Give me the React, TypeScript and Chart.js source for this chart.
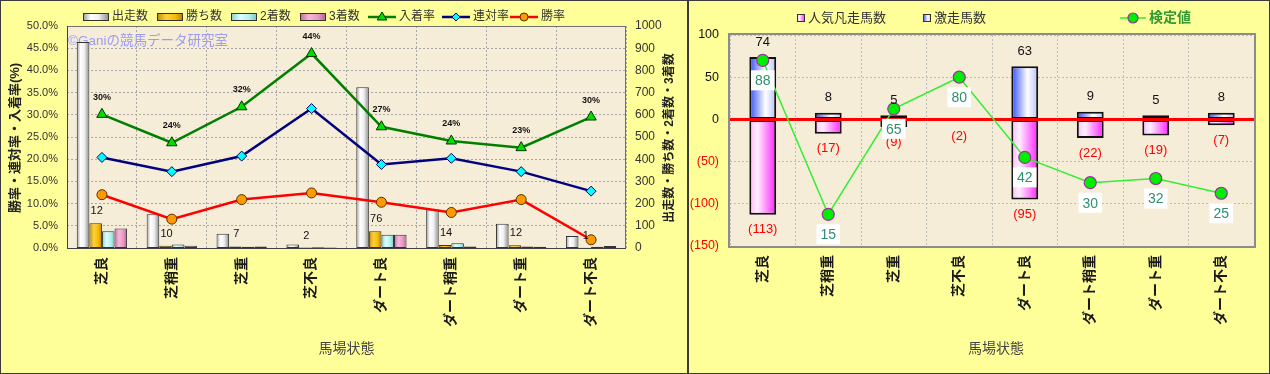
import React, { useEffect, useRef } from "react";
import { Chart, registerables } from "chart.js";

Chart.register(...registerables);

const FONT = "'Liberation Sans', 'Noto Sans CJK JP', sans-serif";

// ---------------- data ----------------
const categories = ["芝良", "芝稍重", "芝重", "芝不良", "ダート良", "ダート稍重", "ダート重", "ダート不良"];

// left chart (counts on right axis)
const runCounts = [928, 152, 64, 16, 724, 173, 109, 54];
const winCounts = [112, 10, 7, 2, 76, 14, 12, 1];
const secondCounts = [76, 16, 6, 3, 60, 21, 7, 6];
const thirdCounts = [88, 10, 7, 2, 60, 7, 6, 9];
const winCountLabels = ["12", "10", "7", "2", "76", "14", "12", "1"];

// left chart rates (%) on left axis
const placeRate = [30.1, 23.7, 31.8, 43.8, 27.3, 24.1, 22.6, 29.5];
const placeRateLabels = ["30%", "24%", "32%", "44%", "27%", "24%", "23%", "30%"];
const quinellaRate = [20.4, 17.2, 20.7, 31.4, 18.8, 20.2, 17.2, 12.8];
const winRate = [12.0, 6.5, 10.9, 12.4, 10.3, 8.0, 10.9, 1.85];

// right chart
const upsetCounts = [74, 8, 5, 1, 63, 9, 5, 8];
const flopCounts = [-113, -17, -9, -2, -95, -22, -19, -7];
const testValues = [88, 15, 65, 80, 42, 30, 32, 25];

// axis ranges
const rateAxis = { min: 0, max: 50, step: 5 };
const countAxis = { min: 0, max: 1000, step: 100 };
const diffAxis = { min: -150, max: 100, step: 50 };
const testAxis = { min: 0, max: 100 };

// ---------------- styles ----------------
type Stops = [number, string][];
const runStops: Stops = [[0, "#9a9a9a"], [0.3, "#ffffff"], [0.6, "#f0f0f0"], [1, "#8a8a8a"]];
const winStops: Stops = [[0, "#c08a00"], [0.35, "#ffd040"], [0.7, "#f8bc00"], [1, "#b88000"]];
const secondStops: Stops = [[0, "#86cccc"], [0.35, "#dcffff"], [0.7, "#b4f0f0"], [1, "#80c4c4"]];
const thirdStops: Stops = [[0, "#c06c98"], [0.35, "#f6b8da"], [0.7, "#e898c4"], [1, "#b86090"]];
const upStops: Stops = [[0, "#2f4cff"], [0.6, "#ffffff"], [1, "#b4c0ff"]];
const downStops: Stops = [[0, "#ffb4ff"], [0.3, "#fff0ff"], [1, "#ff22ff"]];

const LEFT_CAT_PCT = 0.72;
const RIGHT_CAT_PCT = 0.41;

function barGradient(stops: Stops, flat: string, slot: number, nSlots: number, catPct: number) {
  return (c: any) => {
    const chart = c.chart;
    const xs = chart && chart.scales ? chart.scales.x : null;
    if (!xs || c.type !== "data" || c.dataIndex === undefined) return flat;
    const n = categories.length;
    const catW = (xs.right - xs.left) / n;
    const center = xs.getPixelForValue(c.dataIndex);
    const groupW = catW * catPct;
    const bw = groupW / nSlots;
    const x0 = center - groupW / 2 + slot * bw;
    if (!isFinite(x0) || !isFinite(bw) || bw <= 0) return flat;
    const g = chart.ctx.createLinearGradient(x0, 0, x0 + bw, 0);
    stops.forEach(([o, col]) => g.addColorStop(o, col));
    return g;
  };
}

function gradRect(ctx: CanvasRenderingContext2D, stops: Stops, x: number, y: number, w: number, h: number) {
  const g = ctx.createLinearGradient(x, 0, x + w, 0);
  stops.forEach(([o, col]) => g.addColorStop(o, col));
  ctx.fillStyle = g;
  ctx.fillRect(x, y, w, h);
  ctx.lineWidth = 1;
  ctx.strokeStyle = "#333";
  ctx.strokeRect(x + 0.5, y + 0.5, w - 1, h - 1);
}

function drawMarker(ctx: CanvasRenderingContext2D, kind: string, x: number, y: number, r: number, fill: string, stroke: string) {
  ctx.beginPath();
  if (kind === "triangle") {
    ctx.moveTo(x, y - r);
    ctx.lineTo(x + r * 0.95, y + r * 0.6);
    ctx.lineTo(x - r * 0.95, y + r * 0.6);
    ctx.closePath();
  } else if (kind === "diamond") {
    ctx.moveTo(x, y - r);
    ctx.lineTo(x + r, y);
    ctx.lineTo(x, y + r);
    ctx.lineTo(x - r, y);
    ctx.closePath();
  } else {
    ctx.arc(x, y, r, 0, Math.PI * 2);
  }
  ctx.fillStyle = fill;
  ctx.fill();
  ctx.lineWidth = 1;
  ctx.strokeStyle = stroke;
  ctx.stroke();
}

function fillBackground(chart: any, plotColor: string) {
  const { ctx, chartArea: a } = chart;
  ctx.save();
  ctx.fillStyle = "#FFFF99";
  ctx.fillRect(0, 0, chart.width, chart.height);
  ctx.fillStyle = plotColor;
  ctx.fillRect(a.left, a.top, a.right - a.left, a.bottom - a.top);
  ctx.restore();
}

function vText(ctx: CanvasRenderingContext2D, text: string, x: number, y: number, font: string, color: string) {
  ctx.save();
  ctx.translate(x, y);
  ctx.rotate(-Math.PI / 2);
  ctx.font = font;
  ctx.fillStyle = color;
  ctx.textAlign = "center";
  ctx.textBaseline = "middle";
  ctx.fillText(text, 0, 0);
  ctx.restore();
}

// ---------------- left chart ----------------
const leftPlugin = {
  id: "leftDecor",
  beforeDraw(chart: any) {
    fillBackground(chart, "#F6EDD8");
  },
  beforeDatasetsDraw(chart: any) {
    const { ctx, chartArea: a } = chart;
    ctx.save();
    ctx.font = `13.5px ${FONT}`;
    ctx.fillStyle = "#9C9CF0";
    ctx.textAlign = "left";
    ctx.textBaseline = "middle";
    ctx.fillText("©Ganiの競馬データ研究室", a.left + 1, a.top + 15);
    ctx.restore();
  },
  afterDatasetsDraw(chart: any) {
    const { ctx, chartArea: a } = chart;
    ctx.save();
    // plot frame
    ctx.strokeStyle = "#707070";
    ctx.lineWidth = 1;
    ctx.strokeRect(a.left + 0.5, a.top + 0.5, a.right - a.left - 1, a.bottom - a.top);
    ctx.strokeStyle = "#404040";
    ctx.beginPath();
    ctx.moveTo(a.left + 0.5, a.top);
    ctx.lineTo(a.left + 0.5, a.bottom + 0.5);
    ctx.lineTo(a.right, a.bottom + 0.5);
    ctx.stroke();

    ctx.textAlign = "center";
    ctx.textBaseline = "middle";
    // win count labels above 勝ち数 bars
    const winMeta = chart.getDatasetMeta(1);
    ctx.font = `11px ${FONT}`;
    ctx.fillStyle = "#111";
    winMeta.data.forEach((el: any, i: number) => {
      ctx.fillText(winCountLabels[i], el.x + 1, el.y - 12);
    });
    // 入着率 labels
    const placeMeta = chart.getDatasetMeta(4);
    ctx.font = `bold 9px ${FONT}`;
    placeMeta.data.forEach((el: any, i: number) => {
      ctx.fillText(placeRateLabels[i], el.x, el.y - 17);
    });
    ctx.restore();
  },
  afterDraw(chart: any) {
    const { ctx, chartArea: a } = chart;
    ctx.save();
    const y = 17;
    ctx.textAlign = "left";
    ctx.textBaseline = "middle";
    ctx.font = `12px ${FONT}`;
    const bars: [number, string, Stops][] = [
      [83, "出走数", runStops],
      [157, "勝ち数", winStops],
      [231, "2着数", secondStops],
      [300, "3着数", thirdStops],
    ];
    bars.forEach(([x, label, stops]) => {
      gradRect(ctx, stops, x, y - 4, 26, 8);
      ctx.fillStyle = "#333";
      ctx.fillText(label, x + 29, y);
    });
    const lines: [number, string, string, string, string, string][] = [
      [368, "入着率", "#008000", "triangle", "#00DD00", "#003300"],
      [442, "連対率", "#000080", "diamond", "#00FFFF", "#000060"],
      [510, "勝率", "#FF0000", "circle", "#FF9900", "#553300"],
    ];
    lines.forEach(([x, label, color, kind, fill, stroke]) => {
      ctx.strokeStyle = color;
      ctx.lineWidth = 2.5;
      ctx.beginPath();
      ctx.moveTo(x, y);
      ctx.lineTo(x + 28, y);
      ctx.stroke();
      drawMarker(ctx, kind, x + 14, y, kind === "triangle" ? 5 : 4, fill, stroke);
      ctx.fillStyle = "#333";
      ctx.font = `12px ${FONT}`;
      ctx.textAlign = "left";
      ctx.textBaseline = "middle";
      ctx.fillText(label, x + 31, y);
    });
    // axis titles
    vText(ctx, "勝率・連対率・入着率(%)", 15, (a.top + a.bottom) / 2 + 1, `bold 13px ${FONT}`, "#222");
    vText(ctx, "出走数・勝ち数・2着数・3着数", 670, (a.top + a.bottom) / 2 + 1, `bold 12px ${FONT}`, "#222");
    ctx.font = `14px ${FONT}`;
    ctx.fillStyle = "#444";
    ctx.textAlign = "center";
    ctx.fillText("馬場状態", (a.left + a.right) / 2, 349);
    ctx.restore();
  },
};

function leftConfig(): any {
  const barCommon = {
    type: "bar",
    yAxisID: "y1",
    order: 1,
    borderColor: "#333",
    borderWidth: 1,
    borderSkipped: false,
    categoryPercentage: LEFT_CAT_PCT,
    barPercentage: 1,
  };
  const lineCommon = {
    type: "line",
    yAxisID: "y",
    order: 0,
    borderWidth: 2.5,
    pointBorderWidth: 1,
    fill: false,
    tension: 0,
  };
  return {
    type: "bar",
    data: {
      labels: categories,
      datasets: [
        { ...barCommon, label: "出走数", data: runCounts, backgroundColor: barGradient(runStops, "#eee", 0, 4, LEFT_CAT_PCT) },
        { ...barCommon, label: "勝ち数", data: winCounts, backgroundColor: barGradient(winStops, "#fc0", 1, 4, LEFT_CAT_PCT) },
        { ...barCommon, label: "2着数", data: secondCounts, backgroundColor: barGradient(secondStops, "#aee", 2, 4, LEFT_CAT_PCT) },
        { ...barCommon, label: "3着数", data: thirdCounts, backgroundColor: barGradient(thirdStops, "#e8c", 3, 4, LEFT_CAT_PCT) },
        { ...lineCommon, label: "入着率", data: placeRate, borderColor: "#008000", pointStyle: "triangle", pointRadius: 6, pointBackgroundColor: "#00DD00", pointBorderColor: "#003300" },
        { ...lineCommon, label: "連対率", data: quinellaRate, borderColor: "#000080", pointStyle: "rectRot", pointRadius: 5, pointBackgroundColor: "#00FFFF", pointBorderColor: "#000060" },
        { ...lineCommon, label: "勝率", data: winRate, borderColor: "#FF0000", pointStyle: "circle", pointRadius: 5, pointBackgroundColor: "#FF9900", pointBorderColor: "#553300" },
      ],
    },
    options: {
      responsive: false,
      animation: false,
      devicePixelRatio: 1,
      events: [],
      layout: { padding: { top: 26, left: 0, right: 0, bottom: 0 } },
      plugins: { legend: { display: false }, tooltip: { enabled: false } },
      scales: {
        x: {
          offset: true,
          grid: { color: "#A8A8A8", offset: true, drawTicks: false, lineWidth: 1 },
          border: { display: false, dash: [2, 2] },
          ticks: {
            minRotation: 90,
            maxRotation: 90,
            autoSkip: false,
            padding: 9,
            color: "#1a1a1a",
            font: { size: 14, weight: "bold", family: FONT },
          },
          afterFit: (s: any) => {
            s.height = 126;
          },
        },
        y: {
          position: "left",
          min: rateAxis.min,
          max: rateAxis.max,
          grid: { color: "#A8A8A8", drawTicks: false },
          border: { display: false, dash: [2, 2] },
          ticks: {
            stepSize: rateAxis.step,
            padding: 9,
            color: "#333",
            font: { size: 11, family: FONT },
            callback: (v: any) => Number(v).toFixed(1) + "%",
          },
          afterFit: (s: any) => {
            s.width = 67;
          },
        },
        y1: {
          position: "right",
          min: countAxis.min,
          max: countAxis.max,
          grid: { display: false, drawTicks: false },
          border: { display: false },
          ticks: {
            stepSize: countAxis.step,
            padding: 9,
            color: "#333",
            font: { size: 12, family: FONT },
            callback: (v: any) => String(Math.round(Number(v))),
          },
          afterFit: (s: any) => {
            s.width = 62;
          },
        },
      },
    },
    plugins: [leftPlugin],
  };
}

// ---------------- right chart ----------------
const rightPlugin = {
  id: "rightDecor",
  beforeDraw(chart: any) {
    fillBackground(chart, "#F6EDD8");
  },
  beforeDatasetDraw(chart: any, args: any) {
    if (args.index !== 2) return;
    const { ctx, chartArea: a, scales } = chart;
    const y0 = scales.y.getPixelForValue(0);
    ctx.save();
    ctx.strokeStyle = "#FF0000";
    ctx.lineWidth = 3;
    ctx.beginPath();
    ctx.moveTo(a.left, y0);
    ctx.lineTo(a.right, y0);
    ctx.stroke();
    ctx.restore();
  },
  afterDatasetsDraw(chart: any) {
    const { ctx, chartArea: a } = chart;
    ctx.save();
    ctx.strokeStyle = "#8C8C8C";
    ctx.lineWidth = 2;
    ctx.strokeRect(a.left - 1, a.top - 1, a.right - a.left + 2, a.bottom - a.top + 2);

    ctx.textAlign = "center";
    ctx.textBaseline = "middle";
    ctx.font = `13px ${FONT}`;
    const up = chart.getDatasetMeta(0).data;
    const down = chart.getDatasetMeta(1).data;
    const line = chart.getDatasetMeta(2).data;
    up.forEach((el: any, i: number) => {
      ctx.fillStyle = "#111";
      ctx.fillText(String(upsetCounts[i]), el.x, el.y - 15);
    });
    down.forEach((el: any, i: number) => {
      ctx.fillStyle = "#FF0000";
      ctx.fillText(`(${-flopCounts[i]})`, el.x, el.y + 15);
    });
    ctx.font = `14px ${FONT}`;
    line.forEach((el: any, i: number) => {
      const t = String(testValues[i]);
      const w = ctx.measureText(t).width + 8;
      const cy = el.y + 20;
      ctx.fillStyle = "#FFFFFF";
      ctx.fillRect(el.x - w / 2, cy - 10, w, 20);
      ctx.fillStyle = "#2F8F6F";
      ctx.fillText(t, el.x, cy + 1);
    });
    ctx.restore();
  },
  afterDraw(chart: any) {
    const { ctx, chartArea: a } = chart;
    ctx.save();
    const y = 18;
    ctx.textAlign = "left";
    ctx.textBaseline = "middle";
    ctx.font = `13px ${FONT}`;
    gradRect(ctx, downStops, 109, y - 4, 8, 8);
    ctx.fillStyle = "#333";
    ctx.fillText("人気凡走馬数", 120, y);
    gradRect(ctx, upStops, 235, y - 4, 8, 8);
    ctx.fillStyle = "#333";
    ctx.fillText("激走馬数", 246, y);
    ctx.strokeStyle = "#33EE33";
    ctx.lineWidth = 1.5;
    ctx.beginPath();
    ctx.moveTo(432, y);
    ctx.lineTo(458, y);
    ctx.stroke();
    ctx.beginPath();
    ctx.arc(445, y, 5, 0, Math.PI * 2);
    ctx.fillStyle = "#00EE00";
    ctx.fill();
    ctx.strokeStyle = "#993399";
    ctx.lineWidth = 1.2;
    ctx.stroke();
    ctx.font = `bold 14px ${FONT}`;
    ctx.fillStyle = "#339933";
    ctx.fillText("検定値", 461, y);

    ctx.font = `14px ${FONT}`;
    ctx.fillStyle = "#444";
    ctx.textAlign = "center";
    ctx.fillText("馬場状態", (a.left + a.right) / 2 + 4, 349);
    ctx.restore();
  },
};

function rightConfig(): any {
  return {
    type: "bar",
    data: {
      labels: categories,
      datasets: [
        {
          type: "bar",
          label: "激走馬数",
          data: upsetCounts,
          order: 1,
          stack: "s",
          borderColor: "#111",
          borderWidth: 2,
          borderSkipped: false,
          categoryPercentage: RIGHT_CAT_PCT,
          barPercentage: 1,
          backgroundColor: barGradient(upStops, "#88f", 0, 1, RIGHT_CAT_PCT),
        },
        {
          type: "bar",
          label: "人気凡走馬数",
          data: flopCounts,
          order: 1,
          stack: "s",
          borderColor: "#111",
          borderWidth: 2,
          borderSkipped: false,
          categoryPercentage: RIGHT_CAT_PCT,
          barPercentage: 1,
          backgroundColor: barGradient(downStops, "#f8f", 0, 1, RIGHT_CAT_PCT),
        },
        {
          type: "line",
          label: "検定値",
          data: testValues,
          yAxisID: "y2",
          order: 0,
          borderColor: "#33EE33",
          borderWidth: 1.5,
          tension: 0,
          fill: false,
          pointStyle: "circle",
          pointRadius: 6,
          pointBackgroundColor: "#00EE00",
          pointBorderColor: "#993399",
          pointBorderWidth: 1.2,
        },
      ],
    },
    options: {
      responsive: false,
      animation: false,
      devicePixelRatio: 1,
      events: [],
      layout: { padding: { top: 35, left: 0, right: 16, bottom: 0 } },
      plugins: { legend: { display: false }, tooltip: { enabled: false } },
      scales: {
        x: {
          stacked: true,
          offset: true,
          grid: { color: "#BDBDBD", offset: true, drawTicks: false },
          border: { display: false, dash: [2, 2] },
          ticks: {
            minRotation: 90,
            maxRotation: 90,
            autoSkip: false,
            padding: 9,
            color: "#1a1a1a",
            font: { size: 14, weight: "bold", family: FONT },
          },
          afterFit: (s: any) => {
            s.height = 128;
          },
        },
        y: {
          stacked: true,
          min: diffAxis.min,
          max: diffAxis.max,
          grid: { color: "#BDBDBD", drawTicks: false },
          border: { display: false, dash: [2, 2] },
          ticks: {
            stepSize: diffAxis.step,
            padding: 11,
            font: { size: 12.5, family: FONT },
            color: (c: any) => (c.tick && c.tick.value < 0 ? "#FF0000" : "#111"),
            callback: (v: any) => (v < 0 ? `(${-v})` : `${v}`),
          },
          afterFit: (s: any) => {
            s.width = 42;
          },
        },
        y2: {
          display: false,
          min: testAxis.min,
          max: testAxis.max,
        },
      },
    },
    plugins: [rightPlugin],
  };
}

export default function App() {
  const leftRef = useRef<HTMLCanvasElement>(null);
  const rightRef = useRef<HTMLCanvasElement>(null);
  useEffect(() => {
    Chart.defaults.font.family = FONT;
    const c1 = new Chart(leftRef.current as HTMLCanvasElement, leftConfig());
    const c2 = new Chart(rightRef.current as HTMLCanvasElement, rightConfig());
    return () => {
      c1.destroy();
      c2.destroy();
    };
  }, []);
  return (
    <div style={{ position: "absolute", left: 0, top: 0, width: 1270, height: 374, background: "#FFFF99", overflow: "hidden" }}>
      <canvas ref={leftRef} width={688} height={374} style={{ position: "absolute", left: 0, top: 0, width: 688, height: 374 }} />
      <canvas ref={rightRef} width={582} height={374} style={{ position: "absolute", left: 688, top: 0, width: 582, height: 374 }} />
      <div style={{ position: "absolute", left: 0, top: 0, width: 1270, height: 374, boxSizing: "border-box", border: "1px solid #3a3a3a", pointerEvents: "none" }} />
      <div style={{ position: "absolute", left: 687, top: 0, width: 2, height: 374, background: "#3a3a3a", pointerEvents: "none" }} />
    </div>
  );
}
